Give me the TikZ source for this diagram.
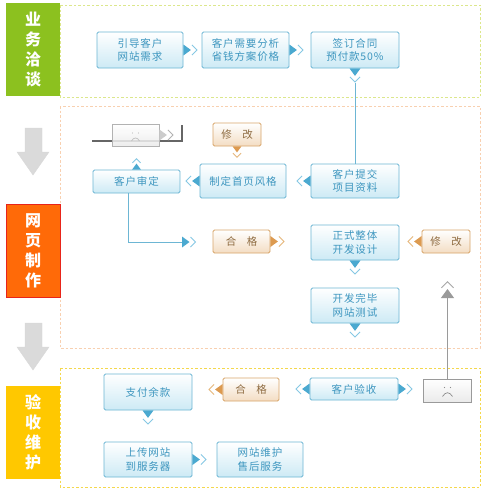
\documentclass[tikz,border=0pt]{standalone}
\usepackage{fontspec}
\setmainfont{Noto Sans CJK SC}
\newfontfamily\boxfont[LetterSpace=8]{Noto Sans CJK SC}
\usetikzlibrary{calc}
\definecolor{bbord}{HTML}{6DB6D4}
\definecolor{btext}{HTML}{3D96BF}
\definecolor{bfill}{HTML}{CDEAF5}
\definecolor{obord}{HTML}{D8A569}
\definecolor{ofill}{HTML}{F3DDC3}
\definecolor{otext}{HTML}{8E6B40}
\definecolor{ptrblue}{HTML}{4BA9D0}
\definecolor{ptrline}{HTML}{86C8E4}
\definecolor{ptrorange}{HTML}{DC9A50}
\definecolor{ptrolight}{HTML}{E6B77C}
\definecolor{gblock}{HTML}{8CC11F}
\definecolor{oblock}{HTML}{FF6A08}
\definecolor{oblockb}{HTML}{E8241A}
\definecolor{yblock}{HTML}{FFC800}
\definecolor{f1c}{HTML}{DCE78C}
\definecolor{f2c}{HTML}{F8D0B0}
\definecolor{f3c}{HTML}{F4D84C}
\definecolor{garrow}{HTML}{DADADA}
\definecolor{gline}{HTML}{9A9A9A}
\begin{document}
\begin{tikzpicture}[x=1pt,y=-1pt,
  bluebox/.style={draw=bbord, line width=0.8pt, rounded corners=1.5pt,
    top color=white, bottom color=bfill, text=btext,
    font=\boxfont\fontsize{10.5}{13.5}\selectfont, align=center, inner sep=0pt},
  orangebox/.style={draw=obord, line width=0.8pt, rounded corners=1.5pt,
    top color=white, bottom color=ofill, text=otext,
    font=\fontsize{10.5}{13}\selectfont, align=center, inner sep=0pt,
    minimum height=23pt},
  greybox/.style={draw=gline, line width=0.8pt, top color=white, bottom color=black!8,
    inner sep=0pt, minimum width=48pt, minimum height=23pt},
  sideblock/.style={text=white, font=\bfseries\fontsize{16}{20}\selectfont,
    align=center, inner sep=0pt, minimum width=54pt, minimum height=93pt},
  frame/.style={dashed, line width=0.8pt, dash pattern=on 2.5pt off 2pt},
  pfill/.style={fill=ptrblue},
  pline/.style={draw=ptrline},
  pblue/.style={pfill/.style={fill=ptrblue}, pline/.style={draw=ptrline}},
  porange/.style={pfill/.style={fill=ptrorange}, pline/.style={draw=ptrolight}},
  pgrey/.style={pfill/.style={fill=gline}, pline/.style={draw=black!35}},
  ptr/.pic={\fill[pfill] (0,-5.5)--(7.5,0)--(0,5.5)--cycle;
            \draw[pline, line width=0.9pt] (8.5,-5)--(13.5,0)--(8.5,5);},
  conn/.style={draw=bbord, line width=1pt},
  bigarrow/.style={fill=garrow, draw=black!15, line width=0.4pt}
]
\useasboundingbox (0,0) rectangle (486,496);
\fill[white] (0,0) rectangle (486,496);

% frames
\draw[frame, draw=f1c] (60,5) rectangle (480,97);
\draw[frame, draw=f2c] (60,106) rectangle (480,348);
\draw[frame, draw=f3c] (60,368) rectangle (480,487);

% side blocks
\node[sideblock, fill=gblock] (s1) at (33,49.5) {业\\务\\洽\\谈};
\node[sideblock, fill=oblock, draw=oblockb, line width=0.8pt] (s2) at (33,251) {网\\页\\制\\作};
\node[sideblock, fill=yblock] (s3) at (33,432) {验\\收\\维\\护};

% big grey arrows
\path[bigarrow] (25,128)--(42,128)--(42,152)--(49,152)--(33,175)--(17,152)--(25,152)--cycle;
\path[bigarrow] (25,323)--(42,323)--(42,347)--(49,347)--(33,370)--(17,347)--(25,347)--cycle;

% stage 1
\node[bluebox, minimum width=86pt, minimum height=36pt] (b1) at (140,50) {引导客户\\网站需求};
\node[bluebox, minimum width=87pt, minimum height=36pt] (b2) at (245.5,50) {客户需要分析\\省钱方案价格};
\node[bluebox, minimum width=88pt, minimum height=36pt] (b3) at (355,50) {签订合同\\预付款50\%};
\pic[pblue] at (b1.east) {ptr};
\pic[pblue] at (b2.east) {ptr};
\pic[pblue, rotate=-90] at (b3.south) {ptr};

% stage 2
\coordinate (gl1) at (92,141);
\coordinate (gl2) at (182,125);
\draw[black!60, line width=1.2pt] (gl1) -| (gl2);
\node[greybox, draw=black!30, fill opacity=0.85, minimum width=47pt, minimum height=22pt] (g1) at (135.5,135) {};
\fill[black!25] ($(g1.center)+(-3,-2)$) circle (0.7);
\fill[black!25] ($(g1.center)+(3,-2)$) circle (0.7);
\draw[black!25, line width=0.7pt] ($(g1.center)+(-4,6)$) .. controls ($(g1.center)+(-2,2)$) and ($(g1.center)+(2,2)$) .. ($(g1.center)+(4,6)$);
\pic[pgrey, pfill/.style={fill=black!20}, pline/.style={draw=black!30}] at (g1.east) {ptr};

\node[orangebox, minimum width=48pt] (o1) at (237,134.5) {修\quad 改};
\pic[porange, rotate=-90, scale=0.8] at (o1.south) {ptr};

\node[bluebox, minimum width=87pt, minimum height=23pt] (b5) at (136.5,181.5) {客户审定};
\node[bluebox, minimum width=86pt, minimum height=34pt] (b6) at (243,181) {制定首页风格};
\node[bluebox, minimum width=88pt, minimum height=34pt] (b7) at (355,181) {客户提交\\项目资料};
\pic[pblue, rotate=180] at (b7.west) {ptr};
\pic[pblue, rotate=180] at (b6.west) {ptr};
\pic[pblue, rotate=90, scale=0.8] at (b5.north) {ptr};

\coordinate (b3l) at ($(b3.south)+(0,15)$);
\draw[conn] (b3l) -- (b7.north);

\node[orangebox, minimum width=57pt] (o2) at (241.5,241.5) {合\quad 格};
\node[bluebox, minimum width=88pt, minimum height=35pt] (b8) at (355,242.5) {正式整体\\开发设计};
\node[orangebox, minimum width=48pt] (o3) at (446,241.5) {修\quad 改};
\node[bluebox, minimum width=88pt, minimum height=35pt] (b9) at (355,305.5) {开发完毕\\网站测试};

\coordinate (c0) at (128,193);
\coordinate (c1) at (182,242);
\draw[conn] (c0) |- (c1);
\pic[pblue] at (c1) {ptr};
\pic[porange] at (o2.east) {ptr};
\pic[porange, rotate=180] at (o3.west) {ptr};
\pic[pblue, rotate=-90] at (b8.south) {ptr};
\pic[pblue, rotate=-90] at (b9.south) {ptr};

% stage 3
\node[bluebox, minimum width=88pt, minimum height=36pt] (b10) at (148,392) {支付余款};
\node[orangebox, minimum width=56pt] (o4) at (251,389.5) {合\quad 格};
\node[bluebox, minimum width=88pt, minimum height=22pt] (b11) at (354,389) {客户验收};
\node[greybox] (g2) at (447.5,390.5) {};
\fill[black!45] ($(g2.center)+(-3,-3)$) circle (0.7);
\fill[black!45] ($(g2.center)+(3,-3)$) circle (0.7);
\draw[black!45, line width=0.7pt] ($(g2.center)+(-5,6)$) .. controls ($(g2.center)+(-2,1)$) and ($(g2.center)+(2,1)$) .. ($(g2.center)+(5,6)$);
\node[bluebox, minimum width=88pt, minimum height=35pt] (b12) at (148,459.5) {上传网站\\到服务器};
\node[bluebox, minimum width=86pt, minimum height=35pt] (b13) at (260,459.5) {网站维护\\售后服务};

\pic[pblue, rotate=180] at (b11.west) {ptr};
\pic[pblue] at (b11.east) {ptr};
\pic[porange, rotate=180] at (o4.west) {ptr};
\pic[pblue, rotate=-90] at (b10.south) {ptr};
\pic[pblue] at (b12.east) {ptr};

\coordinate (gt) at (447.5,298);
\draw[gline, line width=1.8pt] (g2.north) -- (gt);
\pic[pgrey, rotate=90, scale=1.2] at (gt) {ptr};
\end{tikzpicture}
\end{document}
